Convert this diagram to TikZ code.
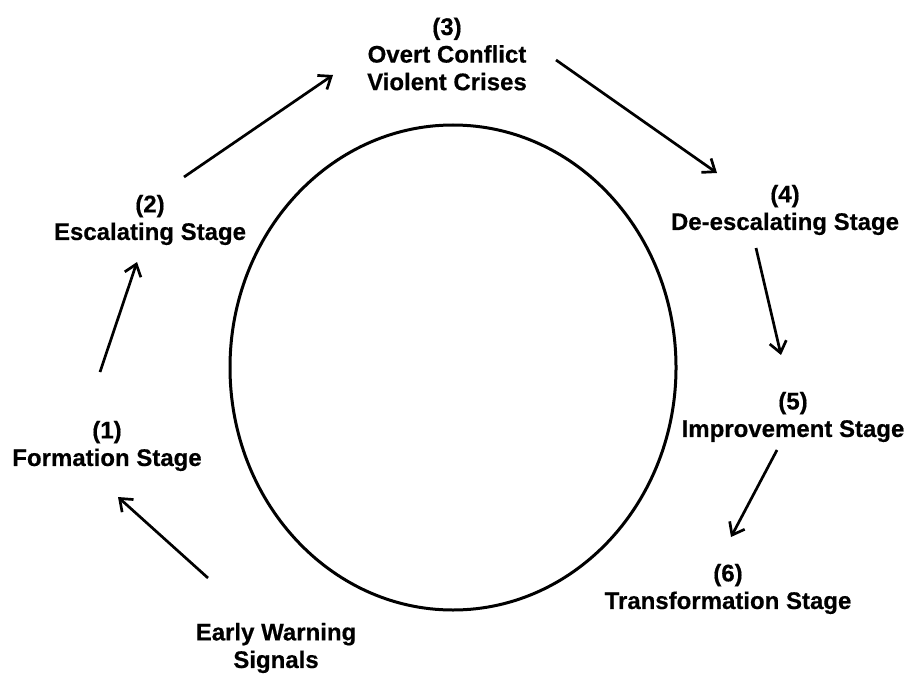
\documentclass[tikz,border=0pt]{standalone}
\usepackage{fontspec}
\setmainfont{Liberation Sans}[BoldFeatures={FakeBold=0.5}]
\usetikzlibrary{arrows.meta,shapes.geometric}
\begin{document}
\begin{tikzpicture}[x=0.5pt,y=-0.5pt,
  lbl/.style={align=center,inner sep=0pt,font=\bfseries\fontsize{12}{13.8}\selectfont},
  arr/.style={line width=1.35pt,-{Straight Barb[length=5.5pt,width=8.5pt,line width=1.35pt]}},
  ringline/.style={line width=1.5pt}]
\useasboundingbox (0,0) rectangle (908,679);
\fill[white] (0,0) rectangle (908,679);
% central ellipse
\node[ringline,draw,ellipse,minimum width=223pt,minimum height=242.5pt,inner sep=0pt] (ring) at (453,367.5) {};
% stage labels
\node[lbl] (s3) at (447,54) {(3)\\Overt Conflict\\Violent Crises};
\node[lbl] (s2) at (150,220) {(2)\\Escalating Stage};
\node[lbl] (s4) at (785,210) {(4)\\De-escalating Stage};
\node[lbl] (s5) at (793,417) {(5)\\Improvement Stage};
\node[lbl] (s1) at (107,446) {(1)\\Formation Stage};
\node[lbl] (s6) at (728,589) {(6)\\Transformation Stage};
\node[lbl] (ews) at (276,648) {Early Warning\\Signals};
% arrow ends
\coordinate (a0s) at (208,578); \coordinate (a0e) at (118,497);
\coordinate (a1s) at (100,372); \coordinate (a1e) at (137,262);
\coordinate (a2s) at (184,177); \coordinate (a2e) at (333,75);
\coordinate (a3s) at (556,60);  \coordinate (a3e) at (717,173);
\coordinate (a4s) at (756,248); \coordinate (a4e) at (781,355);
\coordinate (a5s) at (777,450); \coordinate (a5e) at (731,537);
\draw[arr] (a0s) -- (a0e);
\draw[arr] (a1s) -- (a1e);
\draw[arr] (a2s) -- (a2e);
\draw[arr] (a3s) -- (a3e);
\draw[arr] (a4s) -- (a4e);
\draw[arr] (a5s) -- (a5e);
\end{tikzpicture}
\end{document}
